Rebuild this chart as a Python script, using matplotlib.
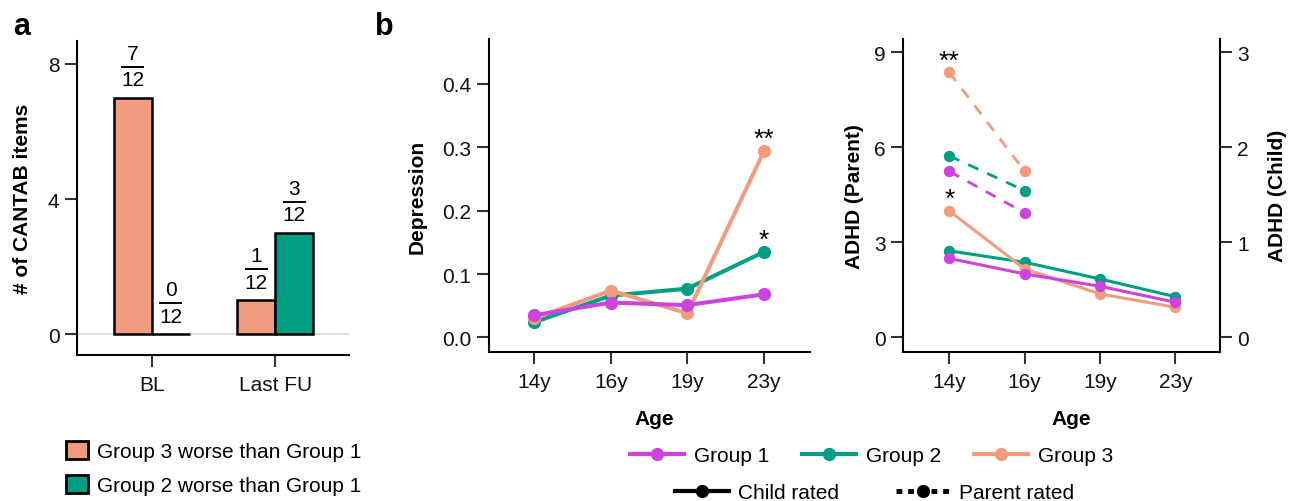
import numpy as np
import matplotlib
matplotlib.use("Agg")
import matplotlib.pyplot as plt
from matplotlib.patches import Patch
from matplotlib.lines import Line2D
from matplotlib.offsetbox import AnnotationBbox, TextArea, DrawingArea, VPacker

plt.rcParams["font.family"] = "Liberation Sans"

# Panel a: CANTAB items
periods = ["BL", "Last FU"]
g3_worse = [7, 1]
g2_worse = [0, 3]
n_items = 12

# Panel b: depression / ADHD by age
ages = ["14y", "16y", "19y", "23y"]
dep_g1 = [0.035, 0.055, 0.051, 0.068]
dep_g2 = [0.024, 0.066, 0.077, 0.135]
dep_g3 = [0.030, 0.074, 0.038, 0.294]

adhd_child_g1 = [0.83, 0.667, 0.537, 0.368]
adhd_child_g2 = [0.91, 0.79, 0.614, 0.427]
adhd_child_g3 = [1.33, 0.72, 0.456, 0.316]

parent_ages = ["14y", "16y"]
adhd_parent_g1 = [5.24, 3.93]
adhd_parent_g2 = [5.73, 4.63]
adhd_parent_g3 = [8.37, 5.24]

# Colours
C1 = "#CC44DD"
C2 = "#009E82"
C3 = "#F29C7F"
FS = 15


def style_axes(ax):
    for s in ["top", "right"]:
        ax.spines[s].set_visible(False)
    for s in ["left", "bottom"]:
        ax.spines[s].set_linewidth(1.5)
    ax.tick_params(axis="both", length=8.5, width=1.5, color="#333333",
                   labelsize=FS, labelcolor="#111111")
    ax.tick_params(axis="x", pad=6)
    ax.tick_params(axis="y", pad=4)


def star(ax, x, y, s):
    ax.annotate(s, (x, y), xytext=(0, 3.5), textcoords="offset points",
                ha="center", va="baseline", fontsize=19)


def fraction(ax, x, y, num, den):
    top = TextArea(str(num), textprops=dict(fontsize=FS))
    bar = DrawingArea(15, 1.5)
    bar.add_artist(Line2D([0, 15], [0.75, 0.75], color="black", lw=1.4))
    bot = TextArea(str(den), textprops=dict(fontsize=FS))
    box = VPacker(children=[top, bar, bot], align="center", pad=0, sep=2)
    ab = AnnotationBbox(box, (x, y), xybox=(0, 6), boxcoords="offset points",
                        box_alignment=(0.5, 0), frameon=False, pad=0)
    ax.add_artist(ab)


fig = plt.figure(figsize=(12.98, 5.02), dpi=100)

# ---- panel a
axa = fig.add_axes([0.0593, 0.2908, 0.2096, 0.6255])
x = np.arange(1, len(periods) + 1)
w = 0.307
axa.axhline(0, color="#DDDDDD", lw=1.5, zorder=0)
b3 = axa.bar(x - w / 2, g3_worse, width=w, color=C3, edgecolor="black", linewidth=1.8)
b2 = axa.bar(x + w / 2, g2_worse, width=w, color=C2, edgecolor="black", linewidth=1.8)
for bars, vals in [(b3, g3_worse), (b2, g2_worse)]:
    for r, v in zip(bars, vals):
        fraction(axa, r.get_x() + r.get_width() / 2, v, v, n_items)
axa.set_xlim(0.396, 2.596)
axa.set_ylim(-0.62, 8.68)
axa.set_yticks([0, 4, 8])
axa.set_xticks(x)
axa.set_xticklabels(periods)
axa.set_ylabel("# of CANTAB items", fontsize=FS, fontweight="bold")
axa.yaxis.set_label_coords(-0.1665, 0.5)
style_axes(axa)

# ---- panel b, depression
axd = fig.add_axes([0.3767, 0.2968, 0.2473, 0.6235])
xa = np.arange(1, len(ages) + 1)
for vals, c in [(dep_g2, C2), (dep_g3, C3), (dep_g1, C1)]:
    axd.plot(xa, vals, color=c, lw=2.9, marker="o", ms=8.5)
star(axd, xa[3], dep_g3[3], "**")
star(axd, xa[3], dep_g2[3], "*")
axd.set_xlim(0.41, 4.6)
axd.set_ylim(-0.023, 0.471)
axd.set_yticks([0.0, 0.1, 0.2, 0.3, 0.4])
axd.set_yticklabels(["0.0", "0.1", "0.2", "0.3", "0.4"])
axd.set_xticks(xa)
axd.set_xticklabels(ages)
axd.set_ylabel("Depression", fontsize=FS, fontweight="bold")
axd.yaxis.set_label_coords(-0.194, 0.5)
axd.set_xlabel("Age", fontsize=FS, fontweight="bold")
axd.xaxis.set_label_coords(0.514, -0.182)
style_axes(axd)

# ---- panel b, ADHD
axp = fig.add_axes([0.6959, 0.2974, 0.2440, 0.6229])
axc = axp.twinx()
xp = np.arange(1, len(parent_ages) + 1)
for vals, c in [(adhd_parent_g2, C2), (adhd_parent_g3, C3), (adhd_parent_g1, C1)]:
    axp.plot(xp, vals, color=c, lw=2.0, ls=(0, (4, 3.5)), marker="o", ms=7.2)
for vals, c in [(adhd_child_g2, C2), (adhd_child_g3, C3), (adhd_child_g1, C1)]:
    axc.plot(xa, vals, color=c, lw=2.2, marker="o", ms=7.2)
star(axp, xp[0], adhd_parent_g3[0], "**")
star(axc, xa[0], adhd_child_g3[0], "*")
axp.set_xlim(0.39, 4.59)
axp.set_ylim(-0.455, 9.42)
axc.set_ylim(-0.455 / 3, 9.42 / 3)
axp.set_yticks([0, 3, 6, 9])
axc.set_yticks([0, 1, 2, 3])
axp.set_xticks(xa)
axp.set_xticklabels(ages)
axp.set_ylabel("ADHD (Parent)", fontsize=FS, fontweight="bold")
axp.yaxis.set_label_coords(-0.124, 0.5)
axc.set_ylabel("ADHD (Child)", fontsize=FS, fontweight="bold")
axc.yaxis.set_label_coords(1.152, 0.5)
axp.set_xlabel("Age", fontsize=FS, fontweight="bold")
axp.xaxis.set_label_coords(0.53, -0.183)
style_axes(axp)
for s in ["top", "left", "bottom"]:
    axc.spines[s].set_visible(False)
axc.spines["right"].set_linewidth(1.5)
axc.tick_params(axis="y", length=8.5, width=1.5, color="#333333",
                labelsize=FS, labelcolor="#111111", pad=4)

# panel letters
fig.text(0.0098, 0.930, "a", fontsize=22, fontweight="bold", ha="left", va="baseline")
fig.text(0.289, 0.930, "b", fontsize=22, fontweight="bold", ha="left", va="baseline")

# legends
bar_handles = [Patch(facecolor=C3, edgecolor="black", linewidth=2),
               Patch(facecolor=C2, edgecolor="black", linewidth=2)]
fig.legend(bar_handles, ["Group 3 worse than Group 1", "Group 2 worse than Group 1"],
           loc="center left", bbox_to_anchor=(0.0506, 0.0657), frameon=False,
           fontsize=FS, handlelength=1.05, handleheight=0.95, handletextpad=0.45,
           labelspacing=0.65, borderpad=0, borderaxespad=0)

grp_handles = [Line2D([], [], color=c, lw=3, marker="o", ms=8.5) for c in [C1, C2, C3]]
fig.legend(grp_handles, ["Group 1", "Group 2", "Group 3"], ncol=3,
           loc="center", bbox_to_anchor=(0.6714, 0.0902), frameon=False,
           fontsize=FS, handlelength=2.6, handletextpad=0.45, columnspacing=1.6,
           borderpad=0, borderaxespad=0)

rater_handles = [Line2D([], [], color="black", lw=3, marker="o", ms=8.5),
                 Line2D([], [], color="black", lw=3.5, ls=(0, (1.2, 1.2)), marker="o", ms=8.5)]
fig.legend(rater_handles, ["Child rated", "Parent rated"], ncol=2,
           loc="center", bbox_to_anchor=(0.6737, 0.0173), frameon=False,
           fontsize=FS, handlelength=2.6, handletextpad=0.45, columnspacing=2.7,
           borderpad=0, borderaxespad=0)

fig.savefig("out.png", dpi=100, facecolor="white")
